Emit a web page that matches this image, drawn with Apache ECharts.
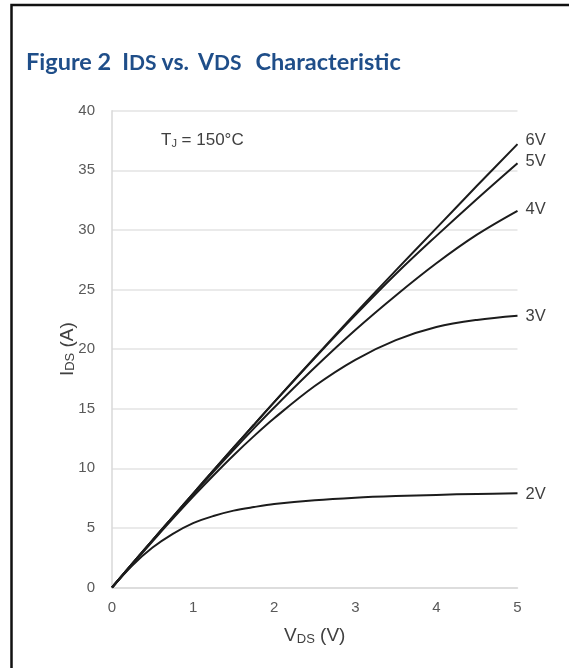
<!DOCTYPE html>
<html>
<head>
<meta charset="utf-8">
<script src="https://cdn.jsdelivr.net/npm/echarts@6/dist/echarts.min.js"></script>
<style>
html,body{margin:0;padding:0;background:#fff;}
#c{width:569px;height:668px;}
</style>
</head>
<body>
<div id="c"></div>
<script>
// ---- data ----
const vds = [0, 0.25, 0.5, 0.75, 1, 1.25, 1.5, 1.75, 2, 2.5, 3, 3.5, 4, 4.5, 5];
const seriesNames = ['6V', '5V', '4V', '3V', '2V'];
const ids6V = [0, 2.0, 3.97, 5.93, 7.88, 9.82, 11.75, 13.65, 15.55, 19.3, 23.0, 26.6, 30.15, 33.7, 37.2];
const ids5V = [0, 2.0, 3.97, 5.93, 7.88, 9.82, 11.75, 13.65, 15.55, 19.25, 22.85, 26.3, 29.5, 32.6, 35.6];
const ids4V = [0, 2.0, 3.95, 5.9, 7.8, 9.7, 11.55, 13.35, 15.1, 18.45, 21.6, 24.5, 27.2, 29.6, 31.6];
const ids3V = [0, 1.95, 3.88, 5.78, 7.63, 9.4, 11.1, 12.7, 14.2, 16.9, 19.1, 20.75, 21.85, 22.45, 22.8];
const ids2V = [0, 1.85, 3.35, 4.5, 5.4, 6.0, 6.45, 6.75, 7.0, 7.32, 7.53, 7.67, 7.77, 7.85, 7.9];
const xTicks = [0, 1, 2, 3, 4, 5];
const yTicks = [0, 5, 10, 15, 20, 25, 30, 35, 40];
const labelOffsets = [[0, -4], [0, -2], [0, -1], [0, 1], [0, 1]];

const allIds = [ids6V, ids5V, ids4V, ids3V, ids2V];
const FONT = 'Liberation Sans, Arial, sans-serif';
const TFONT = 'Lato, Open Sans, sans-serif';

const chart = echarts.init(document.getElementById('c'), null, {renderer: 'canvas'});

const series = seriesNames.map((name, i) => ({
  name: name,
  type: 'line',
  data: vds.map((x, j) => [x, allIds[i][j]]),
  smooth: 0.35,
  showSymbol: false,
  symbol: 'none',
  lineStyle: {color: '#1c1c1c', width: 2},
  endLabel: {
    show: true,
    formatter: name,
    distance: 8,
    offset: labelOffsets[i],
    color: '#404040',
    fontSize: 16.5,
    fontFamily: FONT
  },
  emphasis: {disabled: true},
  animation: false
}));

const tBase = {fontFamily: TFONT, fontWeight: 'bold', color: '#1f4e89', verticalAlign: 'bottom'};

chart.setOption({
  animation: false,
  title: {
    left: 21,
    top: 42,
    text: '{a|Figure 2}{i|I}{c|DS}{v|vs.}{b|V}{c|DS}{e|Characteristic}',
    textStyle: {
      rich: {
        a: Object.assign({fontSize: 23.5, lineHeight: 27}, tBase),
        i: Object.assign({fontSize: 23, lineHeight: 27, padding: [0, 0, 0, 11]}, tBase),
        b: Object.assign({fontSize: 23, lineHeight: 27}, tBase),
        v: Object.assign({fontSize: 23, lineHeight: 27, padding: [0, 9, 0, 5]}, tBase),
        c: Object.assign({fontSize: 21, lineHeight: 25}, tBase),
        e: Object.assign({fontSize: 23.5, lineHeight: 27, padding: [0, 0, 0, 14]}, tBase)
      }
    }
  },
  grid: {left: 112, right: 51.5, top: 110.7, bottom: 80.5, containLabel: false},
  xAxis: {
    type: 'value',
    min: xTicks[0],
    max: xTicks[xTicks.length - 1],
    interval: 1,
    axisLine: {show: true, lineStyle: {color: '#d9d9d9', width: 1.5}},
    axisTick: {show: false},
    splitLine: {show: false},
    axisLabel: {color: '#595959', fontSize: 15, fontFamily: FONT, margin: 13},
    name: '{a|V}{b|DS}{a| (V)}',
    nameLocation: 'middle',
    nameGap: 37,
    nameMoveOverlap: false,
    nameTextStyle: {
      rich: {
        a: {fontSize: 19, color: '#404040', fontFamily: FONT, verticalAlign: 'bottom', lineHeight: 21},
        b: {fontSize: 13, color: '#404040', fontFamily: FONT, verticalAlign: 'bottom', lineHeight: 14}
      }
    }
  },
  yAxis: {
    type: 'value',
    min: yTicks[0],
    max: yTicks[yTicks.length - 1],
    interval: 5,
    axisLine: {show: true, lineStyle: {color: '#d9d9d9', width: 1.5}},
    axisTick: {show: false},
    splitLine: {show: true, lineStyle: {color: '#e3e3e3', width: 1.5}},
    axisLabel: {color: '#595959', fontSize: 15, fontFamily: FONT, margin: 17},
    name: '{a|I}{b|DS}{a| (A)}',
    nameLocation: 'middle',
    nameGap: 35,
    nameMoveOverlap: false,
    nameRotate: 90,
    nameTextStyle: {
      rich: {
        a: {fontSize: 19, color: '#404040', fontFamily: FONT, verticalAlign: 'bottom', lineHeight: 21},
        b: {fontSize: 13, color: '#404040', fontFamily: FONT, verticalAlign: 'bottom', lineHeight: 14}
      }
    }
  },
  graphic: [
    {
      type: 'rect',
      shape: {x: 11.5, y: 5, width: 700, height: 800},
      style: {fill: 'none', stroke: '#111', lineWidth: 2.5},
      silent: true
    },
    {
      type: 'text',
      left: 161,
      top: 132,
      style: {
        text: '{a|T}{b|J}{a| = 150°C}',
        rich: {
          a: {fontSize: 17, fill: '#404040', fontFamily: FONT, verticalAlign: 'bottom', lineHeight: 19},
          b: {fontSize: 11, fill: '#404040', fontFamily: FONT, verticalAlign: 'bottom', lineHeight: 12}
        }
      },
      silent: true
    }
  ],
  series: series
});
</script>
</body>
</html>
